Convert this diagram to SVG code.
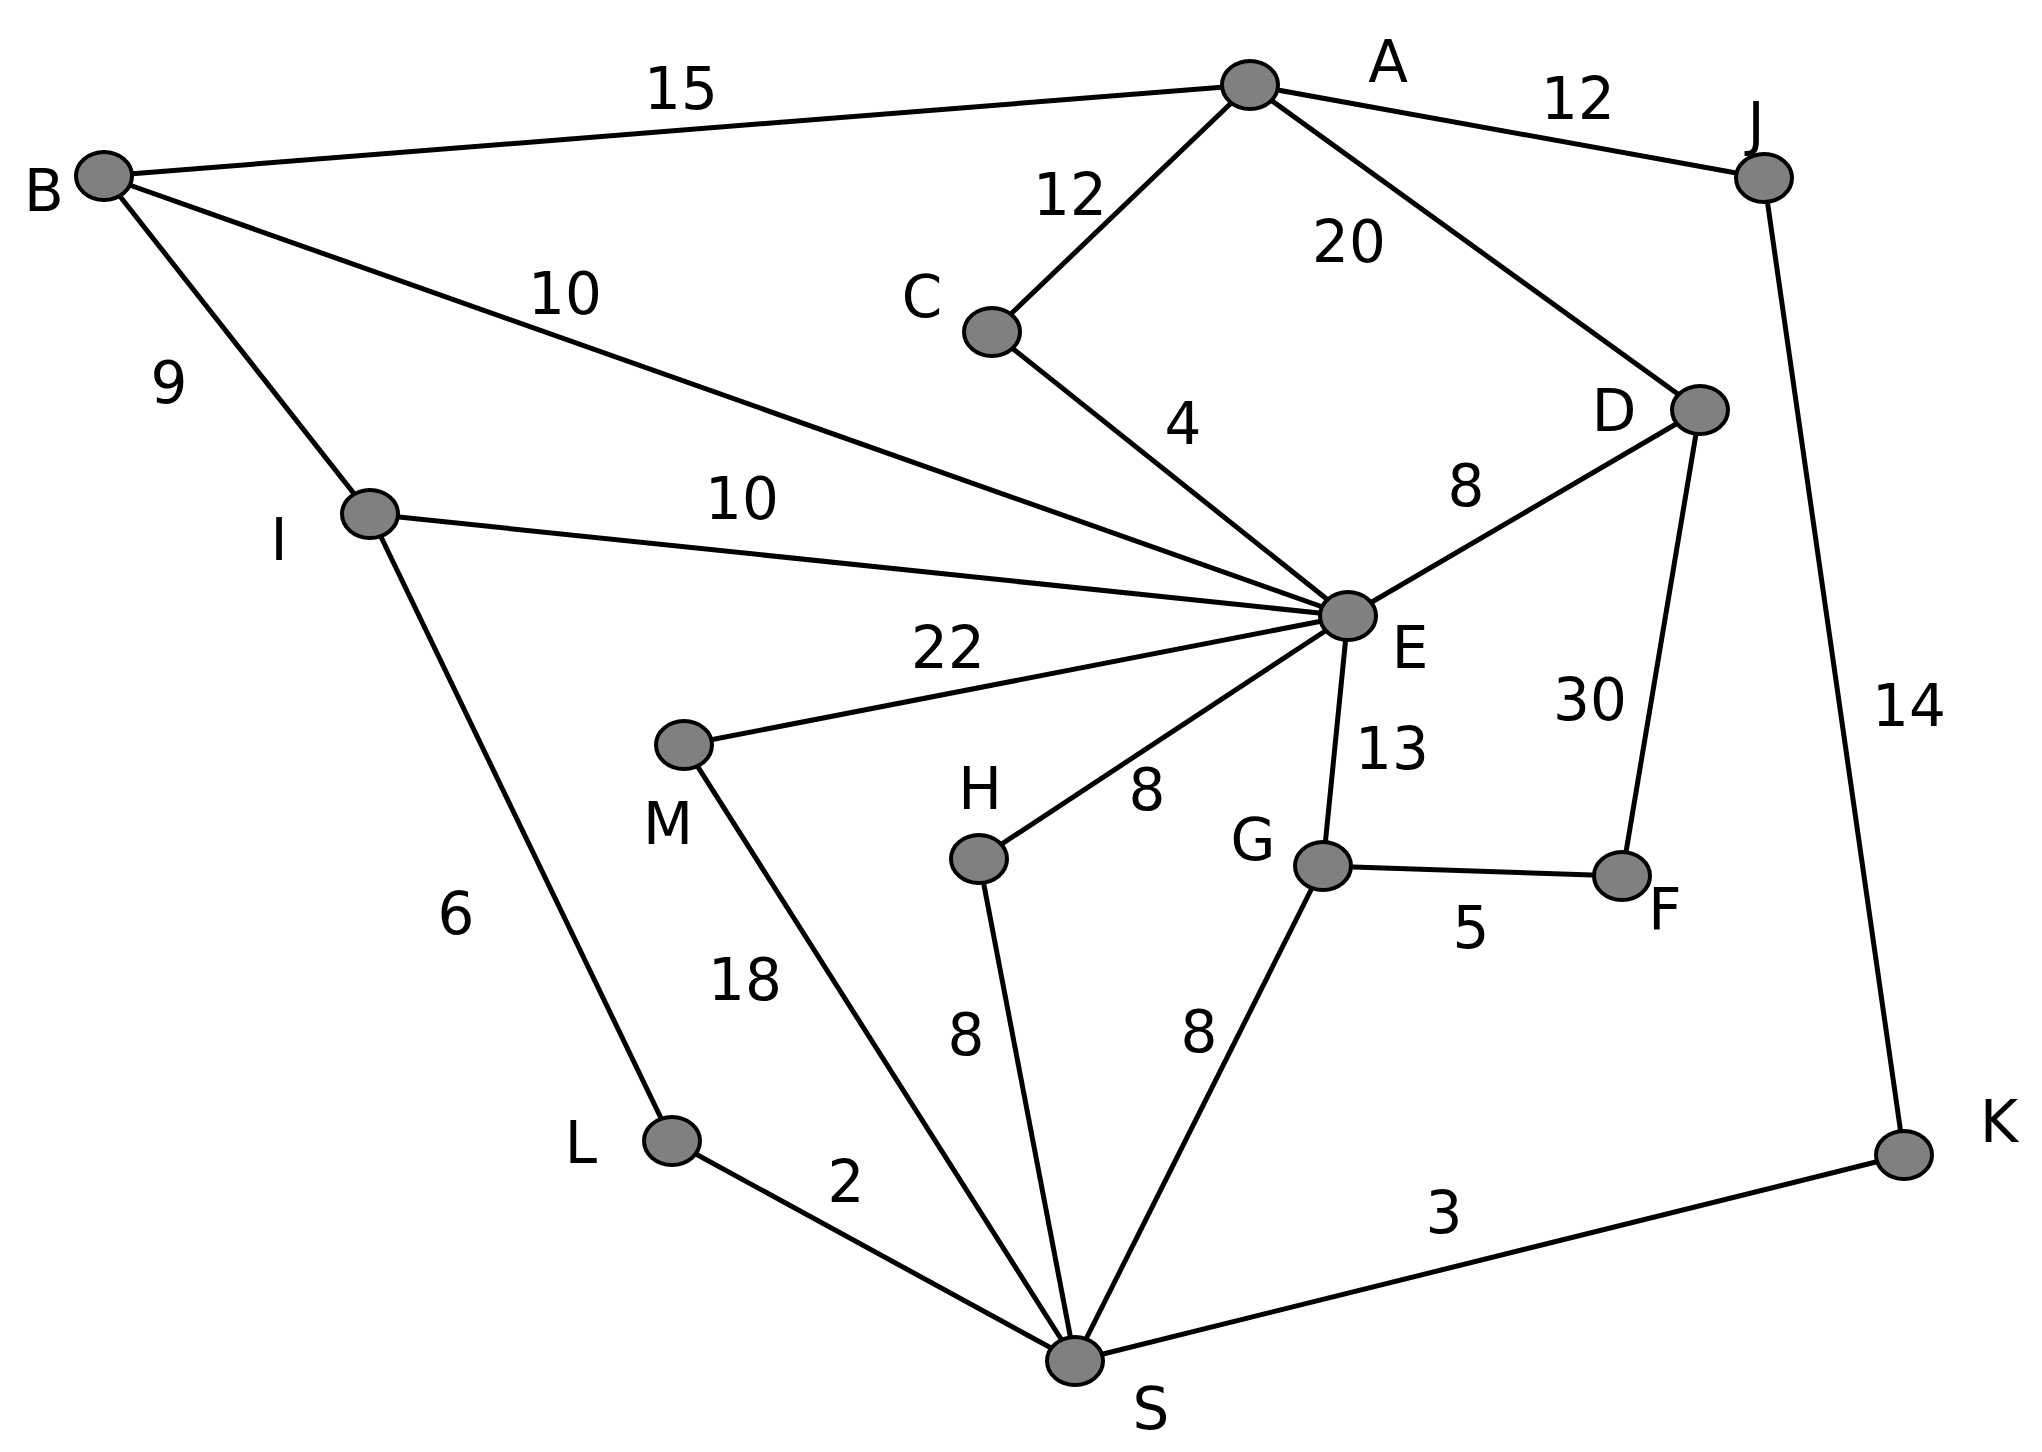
<svg xmlns="http://www.w3.org/2000/svg" width="2042" height="1452" viewBox="0 0 2042 1452">
<style>
line{stroke:#000;stroke-width:5}
ellipse{fill:#808080;stroke:#000;stroke-width:4}
text{font-family:"DejaVu Sans",Verdana,sans-serif;font-size:58px;text-anchor:middle;dominant-baseline:central;fill:#000}
</style>
<rect width="2042" height="1452" fill="#fff"/>
<g id="connectors">
<line x1="104" y1="176" x2="1250" y2="85"/>
<line x1="1250" y1="85" x2="1764" y2="178"/>
<line x1="1250" y1="85" x2="992" y2="332"/>
<line x1="1250" y1="85" x2="1700" y2="410"/>
<line x1="104" y1="176" x2="1348" y2="616"/>
<line x1="104" y1="176" x2="370" y2="514"/>
<line x1="992" y1="332" x2="1348" y2="616"/>
<line x1="1700" y1="410" x2="1348" y2="616"/>
<line x1="1700" y1="410" x2="1622" y2="876"/>
<line x1="1764" y1="178" x2="1904" y2="1155"/>
<line x1="370" y1="514" x2="1348" y2="616"/>
<line x1="370" y1="514" x2="672" y2="1141"/>
<line x1="684" y1="745" x2="1348" y2="616"/>
<line x1="979" y1="859" x2="1348" y2="616"/>
<line x1="1323" y1="866" x2="1348" y2="616"/>
<line x1="1323" y1="866" x2="1622" y2="876"/>
<line x1="684" y1="745" x2="1075" y2="1361"/>
<line x1="979" y1="859" x2="1075" y2="1361"/>
<line x1="1323" y1="866" x2="1075" y2="1361"/>
<line x1="672" y1="1141" x2="1075" y2="1361"/>
<line x1="1904" y1="1155" x2="1075" y2="1361"/>
</g>
<g id="A"><ellipse cx="1250" cy="85" rx="28" ry="24"/><text x="1388" y="62">A</text></g>
<g id="B"><ellipse cx="104" cy="176" rx="28" ry="24"/><text x="44" y="191">B</text></g>
<g id="J"><ellipse cx="1764" cy="178" rx="28" ry="24"/><text x="1756" y="124">J</text></g>
<g id="C"><ellipse cx="992" cy="332" rx="28" ry="24"/><text x="922" y="297">C</text></g>
<g id="D"><ellipse cx="1700" cy="410" rx="28" ry="24"/><text x="1614" y="411">D</text></g>
<g id="I"><ellipse cx="370" cy="514" rx="28" ry="24"/><text x="279" y="540">I</text></g>
<g id="E"><ellipse cx="1348" cy="616" rx="28" ry="24"/><text x="1410" y="648">E</text></g>
<g id="M"><ellipse cx="684" cy="745" rx="28" ry="24"/><text x="668" y="824">M</text></g>
<g id="H"><ellipse cx="979" cy="859" rx="28" ry="24"/><text x="980" y="789">H</text></g>
<g id="G"><ellipse cx="1323" cy="866" rx="28" ry="24"/><text x="1253" y="840">G</text></g>
<g id="F"><ellipse cx="1622" cy="876" rx="28" ry="24"/><text x="1665" y="910">F</text></g>
<g id="L"><ellipse cx="672" cy="1141" rx="28" ry="24"/><text x="581" y="1143">L</text></g>
<g id="K"><ellipse cx="1904" cy="1155" rx="28" ry="24"/><text x="1999" y="1122">K</text></g>
<g id="S"><ellipse cx="1075" cy="1361" rx="28" ry="24"/><text x="1151" y="1409">S</text></g>
<g id="weights">
<text x="681" y="89">15</text>
<text x="1578" y="99">12</text>
<text x="1070" y="195">12</text>
<text x="1349" y="242">20</text>
<text x="565" y="294">10</text>
<text x="169" y="383">9</text>
<text x="1183" y="424">4</text>
<text x="1466" y="486">8</text>
<text x="742" y="499">10</text>
<text x="948" y="648">22</text>
<text x="1590" y="700">30</text>
<text x="1909" y="706">14</text>
<text x="1392" y="749">13</text>
<text x="1147" y="790">8</text>
<text x="1471" y="928">5</text>
<text x="456" y="914">6</text>
<text x="745" y="980">18</text>
<text x="966" y="1035">8</text>
<text x="1199" y="1032">8</text>
<text x="846" y="1182">2</text>
<text x="1444" y="1213">3</text>
</g>
</svg>
